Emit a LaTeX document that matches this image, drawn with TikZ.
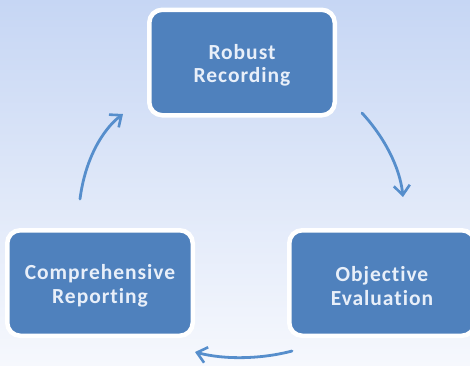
\documentclass[tikz,border=0pt]{standalone}
\usepackage{fontspec}
\setmainfont{Carlito}[Ligatures=NoCommon]
\usetikzlibrary{arrows.meta}
\definecolor{boxfill}{RGB}{79,129,189}
\definecolor{boxtext}{RGB}{232,239,249}
\definecolor{arrowblue}{RGB}{86,142,204}
\definecolor{bgtop}{RGB}{198,214,244}
\definecolor{bgbottom}{RGB}{246,248,253}
\begin{document}
\begin{tikzpicture}[x=1pt,y=-1pt,
  stagebox/.style={draw=white, line width=4.5pt, fill=boxfill, rounded corners=13pt,
    minimum width=185.5pt, minimum height=105.5pt, inner sep=0pt},
  stagetext/.style={inner sep=0pt, align=center, text=boxtext,
    font=\fontsize{21.5}{23.5}\selectfont\bfseries\addfontfeature{LetterSpace=4.5}},
  cyclearrow/.style={draw=arrowblue, line width=2.8pt, line cap=round,
    -{Straight Barb[length=9.5pt,width=16pt,line width=2.6pt]}}]
  % background
  \shade[top color=bgtop, bottom color=bgbottom] (0,0) rectangle (470,365);
  \useasboundingbox (0,0) rectangle (470,365);
  % stages
  \node[stagebox] (rec) at (242,62.5) {};
  \node[stagebox] (rep) at (100,283) {};
  \node[stagebox] (eva) at (382,283) {};
  \node[stagetext] (rect) at ([yshift=-3pt]rec.center) {Robust\\Recording};
  \node[stagetext] (rept) at ([yshift=-3pt]rep.center) {Comprehensive\\Reporting};
  \node[stagetext] (evat) at ([yshift=-3pt]eva.center) {Objective\\Evaluation};
  % connectors between stages
  \coordinate (a1s) at (362,113);
  \coordinate (a1e) at (403,197);
  \coordinate (a2s) at (292,351);
  \coordinate (a2e) at (195,352);
  \coordinate (a3s) at (80,199);
  \coordinate (a3e) at (123,114);
  \draw[cyclearrow] (a1s) .. controls (385,138) and (400,168) .. (a1e);
  \draw[cyclearrow] (a2s) .. controls (262,359) and (225,360) .. (a2e);
  \draw[cyclearrow] (a3s) .. controls (85,160) and (102,130) .. (a3e);
\end{tikzpicture}
\end{document}
